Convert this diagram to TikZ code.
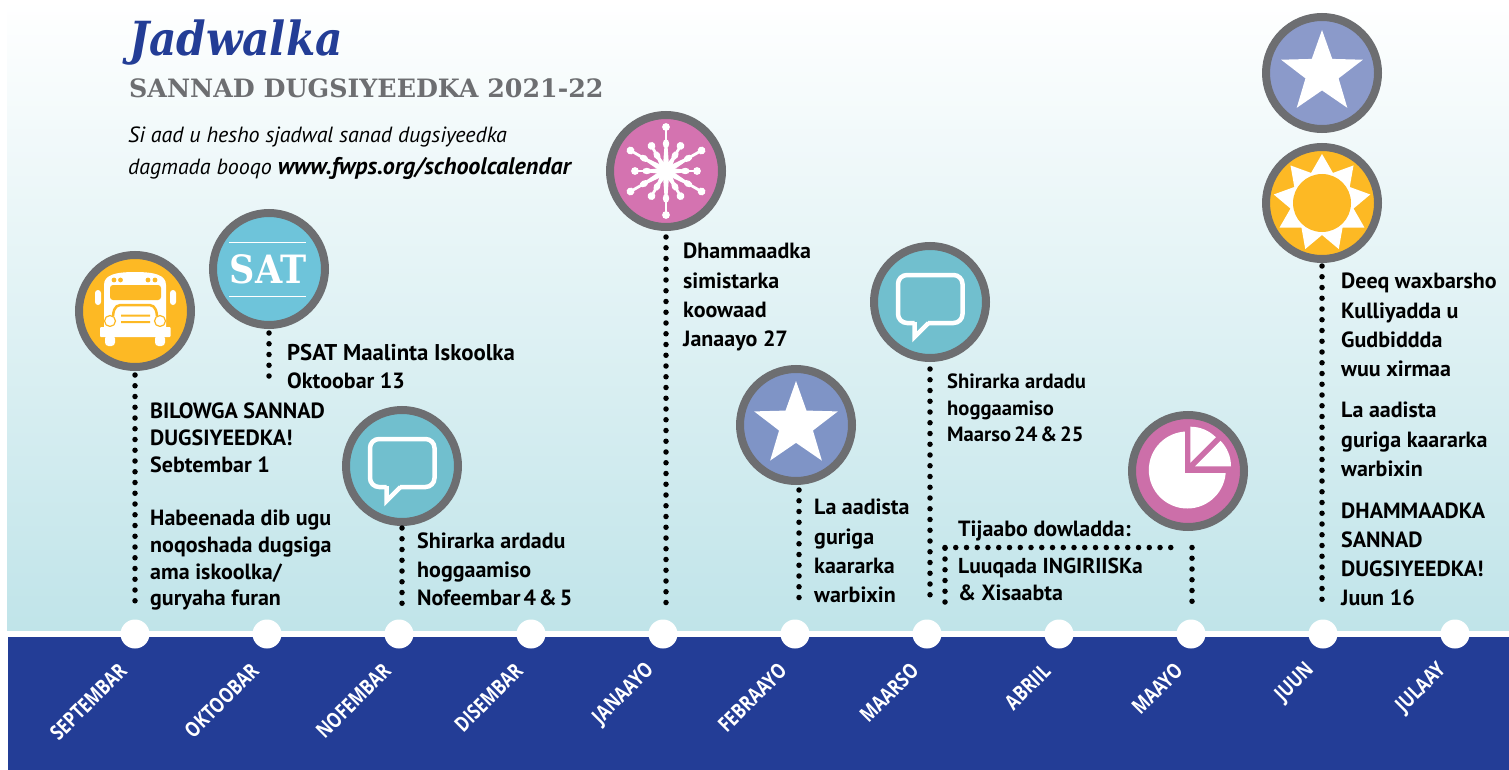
\documentclass[tikz,border=0pt]{standalone}
\usepackage{fontspec}
\setmainfont{PT Sans}
\newfontfamily\bodyf{PT Sans}
\newfontfamily\monthf[FakeStretch=0.8]{Open Sans}
\newfontfamily\slabf{DejaVu Serif}
\newfontfamily\slabc{DejaVu Serif Condensed}
\definecolor{navy}{HTML}{233D96}
\definecolor{ringc}{HTML}{6D6E71}
\definecolor{busy}{HTML}{FDB924}
\definecolor{satb}{HTML}{6EC4DA}
\definecolor{talk}{HTML}{71BFCE}
\definecolor{snowp}{HTML}{D473B0}
\definecolor{piep}{HTML}{CC6FA9}
\definecolor{starb}{HTML}{8B9ACA}
\definecolor{starc}{HTML}{7F94C6}
\definecolor{skyb}{HTML}{C0E4E9}
\definecolor{skym}{HTML}{DFECEF}
\tikzset{
  x=1pt,y=-1pt,
  ringnode/.style={circle,minimum size=112pt,inner sep=0pt,line width=8pt,draw=ringc},
  monthdot/.style={circle,fill=white,minimum size=29pt,inner sep=0pt},
  monthlab/.style={text=white,rotate=45,anchor=east,inner sep=0pt,font=\monthf\bfseries\fontsize{21}{22}\selectfont},
  dotline/.style={line width=5.5pt,line cap=round,dash pattern=on 0pt off 10.75pt},
  txt/.style={anchor=north west,inner sep=0pt,align=left,font=\bodyf\bfseries\fontsize{22}{#1}\selectfont},
  txt/.default=29.3,
  txtsmall/.style={anchor=north west,inner sep=0pt,align=left,font=\bodyf\bfseries\fontsize{20.6}{#1}\selectfont},
}
\begin{document}
\begin{tikzpicture}
\useasboundingbox (0,0) rectangle (1509,770);
\fill[white] (0,0) rectangle (1509,770);
\shade[top color=white,middle color=skym,bottom color=skyb] (7,0) rectangle (1509,631);
\fill[navy] (8,637) rectangle (1509,770);
\fill[white] (7,631) rectangle (1509,637);
% month dots
\foreach \n/\x in {msep/135,moct/267,mnov/399,mdec/531,mjan/663,mfeb/795,mmar/927,mapr/1059,mmay/1191,mjun/1323,mjul/1455}
  \node[monthdot] (\n) at (\x,634) {};
% month labels
\foreach \n/\t in {msep/SEPTEMBAR,moct/OKTOOBAR,mnov/NOFEMBAR,mdec/DISEMBAR,mjan/JANAAYO,mfeb/FEBRAAYO,mmar/MAARSO,mapr/ABRIIL,mmay/MAAYO,mjun/JUUN,mjul/JULAAY}
  \node[monthlab] (l\n) at ([shift={(-12,33)}]\n.center) {\t};
% header
\node[anchor=base west,inner sep=0pt,text=navy,font=\slabc\itshape\bfseries\fontsize{47}{52}\selectfont] (title) at (129,56) {Jadwalka};
\node[anchor=base west,inner sep=0pt,text=ringc,font=\slabf\bfseries\fontsize{25.3}{28}\selectfont] (sub) at (129,98) {SANNAD DUGSIYEEDKA 2021-22};
\node[anchor=north west,inner sep=0pt,align=left,font=\bodyf\itshape\fontsize{22}{32}\selectfont] (intro) at (128,127) {Si aad u hesho sjadwal sanad dugsiyeedka\\dagmada booqo {\bfseries\fontsize{24}{32}\selectfont www.fwps.org/schoolcalendar}};
% ring nodes
\node[ringnode,fill=busy] (bus) at (135,311) {};
\node[ringnode,fill=satb] (sat) at (269,269) {};
\node[ringnode,fill=talk] (nov) at (402,466) {};
\node[ringnode,fill=snowp] (snow) at (666,171) {};
\node[ringnode,fill=starc] (feb) at (796,425) {};
\node[ringnode,fill=talk] (mar) at (930,302) {};
\node[ringnode,fill=piep] (pie) at (1188,471) {};
\node[ringnode,fill=starb] (jstar) at (1322,73) {};
\node[ringnode,fill=busy] (sun) at (1322,203) {};
% bus icon
\begin{scope}[shift={(bus.center)}]
\fill[white,rounded corners=3pt] (-40,-21) rectangle (-34,-6) (35,-21) rectangle (41,-6);
\fill[white] (-31,17) -- (-31,-26) .. controls (-31,-36) and (-20,-39) .. (0,-39) .. controls (20,-39) and (31,-36) .. (31,-26) -- (31,17) -- cycle;
\fill[busy,rounded corners=3pt] (-25,-26) rectangle (26,-11);
\foreach \q in {-21,-14.5,13,20} \fill[busy] (\q,-31) circle[radius=2.4];
\draw[busy,line width=2.5pt] (-22,5) .. controls (-21,-6) and (-17,-6) .. (-11,-6) -- (11,-6) .. controls (17,-6) and (21,-6) .. (22,5);
\fill[busy] (-14,3.5) rectangle (15,5.5) (-14,10) rectangle (15,12);
\filldraw[fill=white,draw=busy,line width=1.2pt] (-25,10) circle[radius=5.5] (25,10) circle[radius=5.5];
\fill[white,rounded corners=1pt] (-35,16) rectangle (35.5,26);
\fill[white,rounded corners=3.5pt] (-30,24) rectangle (-20,35) (20,24) rectangle (30,35);
\end{scope}
% SAT icon
\begin{scope}[shift={(sat.center)}]
\draw[white,line width=1pt] (-40,-27) -- (37,-27) (-40,27) -- (37,27);
\node[inner sep=0pt,text=white,font=\slabc\bfseries\fontsize{39}{40}\selectfont] (sattxt) at (-1,0) {SAT};
\end{scope}
% speech bubbles
\foreach \c in {nov,mar}{
\begin{scope}[shift={(\c.center)}]
\draw[white,line width=4.5pt,line join=miter,rounded corners=9pt] (-2,21) -- (32.5,21) -- (32.5,-27) -- (-32,-27) -- (-32,21) -- (-15.5,21);
\draw[white,line width=4.5pt,line join=miter] (-1.5,21) -- (-15.5,35) -- (-15.5,20);
\end{scope}}
% snowflake
\begin{scope}[shift={(snow.center)}]
\fill[white] (0,0) circle[radius=9];
\foreach \a/\r in {90/44,60/29,30/41,0/31,-30/41,-60/29,-90/44,-120/29,-150/41,180/31,150/41,120/29}{
  \begin{scope}[rotate=\a]
  \fill[white] (0,-3.4) -- (0.55*\r,-1.6) -- (0.55*\r,1.6) -- (0,3.4) -- cycle;
  \draw[white,line width=2.8pt] (0,0) -- (\r,0);
  \fill[white] (0.62*\r,0) ellipse[x radius=4.5,y radius=3.2];
  \fill[white] (\r,0) circle[radius=3.9];
  \end{scope}}
\end{scope}
% stars
\foreach \c/\R in {feb/44,jstar/43}{
\fill[white,shift={(\c.center)}] (270:\R)
  \foreach \k in {1,...,4}{ -- (270+72*\k-36:0.405*\R) -- (270+72*\k:\R)} -- (270+360-36:0.405*\R) -- cycle;
}
% sun
\begin{scope}[shift={(sun.center)}]
\fill[white] (270:49) \foreach \k in {1,...,8}{ -- (270+40*\k-20:32) -- (270+40*\k:49)} -- (250:32) -- cycle;
\fill[busy] (0,0) circle[radius=29];
\end{scope}
% pie
\begin{scope}[shift={(pie.center)}]
\fill[white] (-0.7,-1) circle[radius=38.5];
\begin{scope}
\clip (-0.7,-1) circle[radius=39.5];
\fill[piep] (-3.3,1.7) rectangle (40,-41);
\end{scope}
\fill[white] (2.3,-8.3) -- (2.3,-44.3) .. controls (11.85,-44.3) and (21.05,-40.55) .. (27.8,-33.8) -- cycle;
\fill[white] (7,-4.7) -- (32.5,-30.2) .. controls (39.25,-23.45) and (43,-14.25) .. (43,-4.7) -- cycle;
\end{scope}
% connector ends
\coordinate (e1) at (135,604);
\coordinate (e2) at (269,386);
\coordinate (e3) at (402,604);
\coordinate (e4) at (666,603);
\coordinate (e5) at (799,603);
\coordinate (e6) at (930,602);
\coordinate (e7) at (1322,603);
\coordinate (j1) at (945,602);
\coordinate (j2) at (945,547.5);
\coordinate (j3) at (1177,547.5);
\coordinate (j4) at (1192,547.5);
\coordinate (j5) at (1192,603);
\draw[dotline] ([yshift=-4pt]bus.south) -- (e1);
\draw[dotline] ([yshift=-4pt]sat.south) -- (e2);
\draw[dotline] ([yshift=-2pt]nov.south) -- (e3);
\draw[dotline] ([yshift=-6pt]snow.south) -- (e4);
\draw[dotline] (799,490) -- (e5);
\draw[dotline] (mar.south |- 0,369) -- (e6);
\draw[dotline] (sun.south |- 0,266) -- (e7);
\draw[dotline] (j1) -- (j2);
\draw[dotline] (j2) -- (j3);
\draw[dotline] (j4) -- (j5);
% texts
\node[txt=27] (t1) at (150,403) {BILOWGA SANNAD\\DUGSIYEEDKA!\\Sebtembar 1};
\node[txt=26.7] (t2) at (150,510) {Habeenada dib ugu\\noqoshada dugsiga\\ama iskoolka/\\guryaha furan};
\node[txt=28] (t3) at (287,344) {\fontsize{22.8}{28}\selectfont PSAT Maalinta Iskoolka\\Oktoobar 13};
\node[txt=28.5] (t4) at (417,533) {Shirarka ardadu\\hoggaamiso\\Nofeembar\hspace{3pt}4\hspace{3pt}\&\hspace{3pt}5};
\node[txt=29.3] (t5) at (683,243) {Dhammaadka\\simistarka\\koowaad\\Janaayo 27};
\node[txt=29.3] (t6) at (814,499) {La aadista\\guriga\\kaararka\\warbixin};
\node[txtsmall=26.5] (t7) at (947,374) {Shirarka ardadu\\hoggaamiso\\Maarso\hspace{3pt}24\hspace{3pt}\&\hspace{3pt}25};
\node[txt=27] (t8) at (958,521) {Tijaabo dowladda:};
\node[txt=27] (t9) at (958,558) {\fontsize{21.6}{27}\selectfont Luuqada INGIRIISKa\\\& Xisaabta};
\node[txt=29.3] (t10) at (1341,273) {Deeq waxbarsho\\Kulliyadda u\\Gudbiddda\\wuu xirmaa};
\node[txt=29.5] (t11) at (1341,402) {La aadista\\guriga kaararka\\warbixin};
\node[txt=29] (t12) at (1341,503) {DHAMMAADKA\\SANNAD\\DUGSIYEEDKA!\\Juun 16};
\end{tikzpicture}
\end{document}
